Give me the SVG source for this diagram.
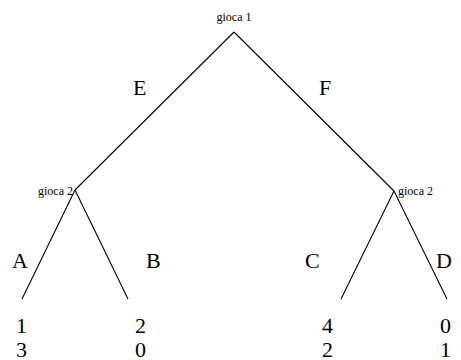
<svg xmlns="http://www.w3.org/2000/svg" width="461" height="360" viewBox="0 0 461 360">
<rect width="461" height="360" fill="#fff"/>
<g id="edges" stroke="#000" stroke-width="1.1" fill="none">
<line x1="234" y1="32" x2="75" y2="190"/>
<line x1="234" y1="32" x2="394" y2="191"/>
<line x1="75" y1="190" x2="22" y2="299"/>
<line x1="75" y1="190" x2="128" y2="299"/>
<line x1="394" y1="191" x2="341" y2="299"/>
<line x1="394" y1="191" x2="447" y2="299"/>
</g>
<g font-family="Liberation Serif, DejaVu Serif, serif" font-size="12" fill="#000">
<g id="n1"><text x="234" y="21" text-anchor="middle">gioca 1</text></g>
<g id="n2"><text x="73" y="195" text-anchor="end">gioca 2</text></g>
<g id="n3"><text x="398" y="195">gioca 2</text></g>
</g>
<g font-family="Liberation Serif, DejaVu Serif, serif" font-size="22" fill="#000">
<g id="labels">
<text x="133" y="95">E</text>
<text x="319" y="95">F</text>
<text x="12" y="268">A</text>
<text x="146" y="268">B</text>
<text x="305" y="268">C</text>
<text x="436" y="268">D</text>
</g>
<g id="leaf1"><text x="16" y="333">1</text><text x="16" y="357">3</text></g>
<g id="leaf2"><text x="135" y="333">2</text><text x="135" y="357">0</text></g>
<g id="leaf3"><text x="322" y="333">4</text><text x="322" y="357">2</text></g>
<g id="leaf4"><text x="440" y="333">0</text><text x="440" y="357">1</text></g>
</g>
</svg>
